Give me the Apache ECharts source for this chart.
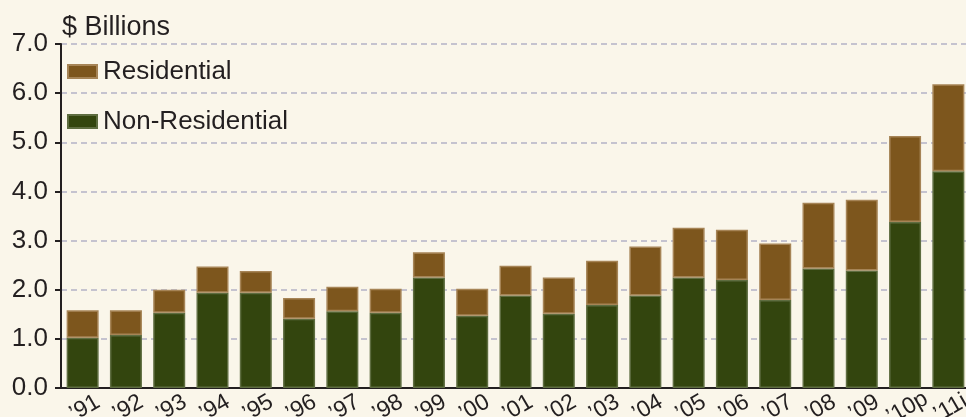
<!DOCTYPE html>
<html>
<head>
<meta charset="utf-8">
<script src="https://cdn.jsdelivr.net/npm/echarts@6/dist/echarts.min.js"></script>
<style>
  html, body { margin: 0; padding: 0; background: #FAF6EA; }
  #chart { width: 966px; height: 417px; }
</style>
</head>
<body>
<div id="chart"></div>
<script>
// years on the x axis
const years = ['’91', '’92', '’93', '’94', '’95', '’96', '’97', '’98', '’99', '’00', '’01',
               '’02', '’03', '’04', '’05', '’06', '’07', '’08', '’09', '’10p', '’11i'];
// $ billions
const nonResidential = [1.02, 1.08, 1.53, 1.94, 1.94, 1.41, 1.56, 1.53, 2.25, 1.47, 1.88,
                        1.51, 1.69, 1.88, 2.25, 2.20, 1.79, 2.43, 2.39, 3.38, 4.41];
const residential = [0.56, 0.50, 0.47, 0.53, 0.44, 0.42, 0.50, 0.49, 0.51, 0.55, 0.61,
                     0.74, 0.90, 1.00, 1.01, 1.02, 1.15, 1.34, 1.44, 1.75, 1.77];
const yTicks = [0, 1, 2, 3, 4, 5, 6, 7];

const chartDom = document.getElementById('chart');
const myChart = echarts.init(chartDom, null, { renderer: 'canvas' });
const font = '"Liberation Sans", Arial, sans-serif';
const ink = '#231F20';

const option = {
    backgroundColor: '#FAF6EA',
    animation: false,
    textStyle: { fontFamily: font, color: ink },
    grid: { left: 61, top: 44, width: 909, height: 344, outerBoundsMode: 'none', containLabel: false },
    legend: {
        orient: 'vertical', left: 62, top: 53,
        itemWidth: 29, itemHeight: 13, itemGap: 23,
        icon: 'rect',
        data: ['Residential', 'Non-Residential'],
        textStyle: { fontSize: 26, color: ink, fontFamily: font, lineHeight: 27, padding: [0, 0, 0, 1] }
    },
    xAxis: {
        type: 'category',
        data: years,
        axisLine: { lineStyle: { color: ink, width: 2 } },
        axisTick: { length: 6, lineStyle: { color: ink, width: 2 } },
        axisLabel: {
            interval: 0,
            fontSize: 23, color: ink, fontFamily: font,
            rotate: 30, margin: 8, align: 'center', verticalAlign: 'top',
            padding: [0, 8, 0, 0]
        }
    },
    yAxis: {
        type: 'value',
        min: yTicks[0], max: yTicks[yTicks.length - 1], interval: 1,
        name: '$ Billions',
        nameLocation: 'end',
        nameGap: 3,
        nameTextStyle: { fontSize: 27, color: ink, fontFamily: font, align: 'left', verticalAlign: 'bottom', padding: [0, 0, 0, 1] },
        axisLine: { show: true, lineStyle: { color: ink, width: 2 } },
        axisTick: { show: true, length: 6, lineStyle: { color: ink, width: 2 } },
        axisLabel: { fontSize: 26, color: ink, fontFamily: font, margin: 13, formatter: v => v.toFixed(1) },
        splitLine: { lineStyle: { color: '#B4B2C6', width: 1.5, type: [6, 4] } }
    },
    series: [
        {
            name: 'Non-Residential', type: 'bar', stack: 'total',
            barWidth: 32, data: nonResidential,
            itemStyle: { color: '#33450E', borderColor: '#5E6D40', borderWidth: 1.5 }
        },
        {
            name: 'Residential', type: 'bar', stack: 'total',
            barWidth: 32, data: residential,
            itemStyle: { color: '#7D561D', borderColor: '#A68456', borderWidth: 1.5 }
        }
    ]
};
myChart.setOption(option);
</script>
</body>
</html>
